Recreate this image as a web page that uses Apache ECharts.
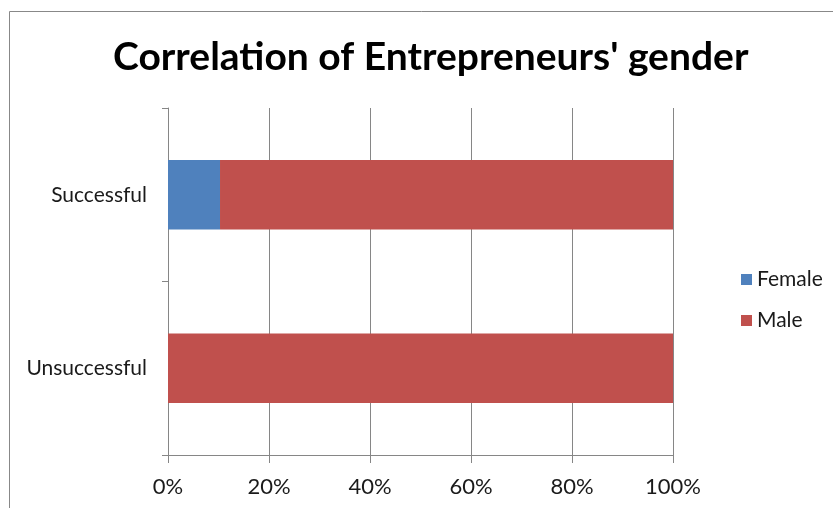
<!DOCTYPE html>
<html>
<head>
<meta charset="utf-8">
<script src="https://cdn.jsdelivr.net/npm/echarts@6/dist/echarts.min.js"></script>
<style>
  html, body { margin: 0; padding: 0; background: #fff; }
  #chart { width: 833px; height: 508px; }
</style>
</head>
<body>
<div id="chart"></div>
<script>
// Outcome categories, bottom to top
const categories = ['Unsuccessful', 'Successful'];
// Share of entrepreneurs by gender in each outcome group (%)
const femaleShare = [0, 10.3];
const maleShare = [100, 89.7];
const seriesNames = ['Female', 'Male'];
const xTicks = { min: 0, max: 100, step: 20 };

const font = 'Lato, "Open Sans", sans-serif';
const axisGray = '#868686';
const textColor = '#1a1a1a';

const chart = echarts.init(document.getElementById('chart'));
chart.setOption({
  animation: false,
  backgroundColor: '#fff',
  title: {
    text: "Correlation of Entrepreneurs' gender",
    left: 108,
    top: 33,
    textStyle: { fontFamily: font, fontWeight: 'bold', fontSize: 39, color: '#000' }
  },
  graphic: [{
    type: 'rect',
    shape: { x: 9.5, y: 11.5, width: 900, height: 600 },
    style: { fill: 'none', stroke: '#888', lineWidth: 1 },
    silent: true
  }],
  legend: {
    orient: 'vertical',
    left: 736,
    top: 264,
    itemWidth: 11,
    itemHeight: 11,
    itemGap: 20,
    icon: 'rect',
    textStyle: { fontFamily: font, fontSize: 21, color: textColor },
    data: seriesNames
  },
  grid: { left: 168, right: 160, top: 108, bottom: 53, containLabel: false },
  xAxis: {
    type: 'value',
    min: xTicks.min,
    max: xTicks.max,
    interval: xTicks.step,
    axisLine: { show: true, lineStyle: { color: axisGray } },
    axisTick: { show: true, length: 8, lineStyle: { color: axisGray } },
    splitLine: { show: true, lineStyle: { color: axisGray } },
    axisLabel: { formatter: '{value}%', fontFamily: font, fontSize: 22, color: textColor, margin: 21 }
  },
  yAxis: {
    type: 'category',
    data: categories,
    axisLine: { show: true, lineStyle: { color: axisGray } },
    axisTick: { show: true, length: 6, lineStyle: { color: axisGray } },
    axisLabel: { fontFamily: font, fontSize: 21, color: textColor, margin: 21 }
  },
  series: [
    {
      name: seriesNames[0], type: 'bar', stack: 'total', data: femaleShare,
      barWidth: '40%', itemStyle: { color: '#4F81BD' }
    },
    {
      name: seriesNames[1], type: 'bar', stack: 'total', data: maleShare,
      barWidth: '40%', itemStyle: { color: '#C0504D' }
    }
  ]
});
</script>
</body>
</html>
